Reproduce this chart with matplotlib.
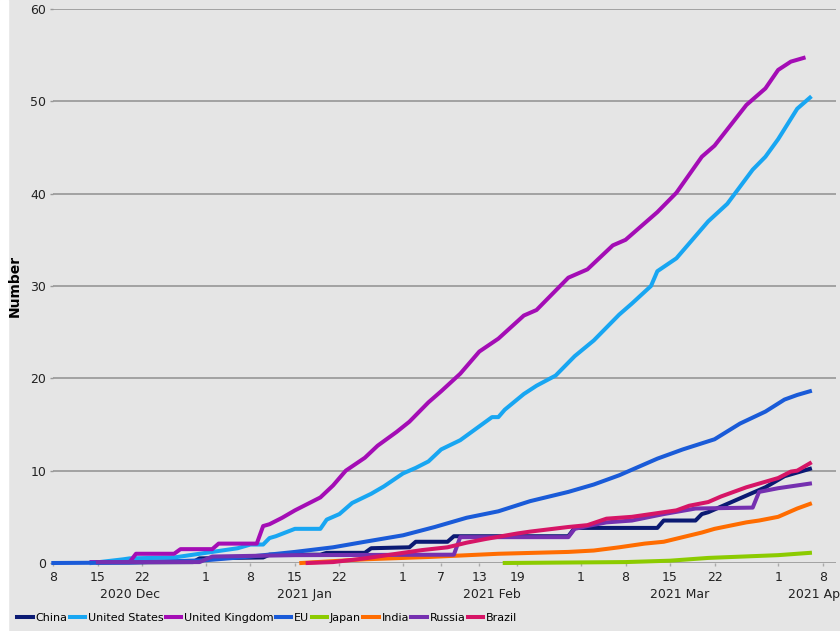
import matplotlib
matplotlib.use("Agg")
import matplotlib.pyplot as plt
import matplotlib.dates as mdates
from matplotlib.patches import Rectangle
import pandas as pd

# values (doses per hundred people, cumulative)
china_dates = ["2020-12-15", "2020-12-30", "2020-12-31", "2021-01-10", "2021-01-11", "2021-01-19",
               "2021-01-20", "2021-01-26", "2021-01-27", "2021-02-02", "2021-02-03", "2021-02-08",
               "2021-02-09", "2021-02-27", "2021-02-28", "2021-03-13", "2021-03-14", "2021-03-19",
               "2021-03-20", "2021-03-21", "2021-03-24", "2021-03-27", "2021-03-30", "2021-04-02",
               "2021-04-06"]
china_vals = [0.05, 0.1, 0.5, 0.6, 0.9, 0.9,
              1.1, 1.1, 1.6, 1.7, 2.3, 2.3,
              2.9, 2.9, 3.8, 3.8, 4.6, 4.6,
              5.3, 5.5, 6.4, 7.3, 8.2, 9.4,
              10.2]

us_dates = ["2020-12-14", "2020-12-19", "2020-12-20", "2020-12-27", "2020-12-30", "2021-01-02",
            "2021-01-06", "2021-01-08", "2021-01-10", "2021-01-11", "2021-01-12", "2021-01-15",
            "2021-01-19", "2021-01-20", "2021-01-22", "2021-01-24", "2021-01-27", "2021-01-29",
            "2021-02-01", "2021-02-03", "2021-02-05", "2021-02-07", "2021-02-10", "2021-02-13",
            "2021-02-15", "2021-02-16", "2021-02-17", "2021-02-20", "2021-02-22", "2021-02-25",
            "2021-02-28", "2021-03-03", "2021-03-07", "2021-03-09", "2021-03-12", "2021-03-13",
            "2021-03-16", "2021-03-21", "2021-03-24", "2021-03-28", "2021-03-30", "2021-04-01",
            "2021-04-04", "2021-04-06"]
us_vals = [0.0, 0.4, 0.5, 0.6, 0.9, 1.2,
           1.6, 2.0, 2.0, 2.7, 2.9, 3.7,
           3.7, 4.7, 5.3, 6.5, 7.5, 8.3,
           9.7, 10.3, 11.0, 12.3, 13.3, 14.8,
           15.8, 15.8, 16.6, 18.3, 19.2, 20.3,
           22.4, 24.1, 26.9, 28.1, 30.0, 31.6,
           33.0, 37.0, 38.9, 42.6, 44.0, 45.9,
           49.2, 50.4]

uk_dates = ["2020-12-14", "2020-12-20", "2020-12-21", "2020-12-27", "2020-12-28", "2021-01-02",
            "2021-01-03", "2021-01-09", "2021-01-10", "2021-01-11", "2021-01-13", "2021-01-15",
            "2021-01-17", "2021-01-19", "2021-01-21", "2021-01-23", "2021-01-26", "2021-01-28",
            "2021-01-31", "2021-02-02", "2021-02-05", "2021-02-07", "2021-02-10", "2021-02-13",
            "2021-02-16", "2021-02-20", "2021-02-22", "2021-02-27", "2021-03-02", "2021-03-06",
            "2021-03-08", "2021-03-13", "2021-03-16", "2021-03-20", "2021-03-22", "2021-03-27",
            "2021-03-30", "2021-04-01", "2021-04-03", "2021-04-05"]
uk_vals = [0.1, 0.1, 1.0, 1.0, 1.5, 1.5,
           2.1, 2.1, 4.0, 4.2, 4.9, 5.7,
           6.4, 7.1, 8.4, 10.0, 11.4, 12.7,
           14.2, 15.3, 17.4, 18.6, 20.5, 22.9,
           24.3, 26.8, 27.4, 30.9, 31.8, 34.4,
           35.0, 38.0, 40.1, 44.0, 45.2, 49.6,
           51.4, 53.4, 54.3, 54.7]

eu_dates = ["2020-12-08", "2020-12-20", "2021-01-01", "2021-01-08", "2021-01-15", "2021-01-21",
            "2021-01-26", "2021-02-01", "2021-02-06", "2021-02-11", "2021-02-16", "2021-02-21",
            "2021-02-27", "2021-03-03", "2021-03-07", "2021-03-09", "2021-03-13", "2021-03-17",
            "2021-03-22", "2021-03-26", "2021-03-30", "2021-04-02", "2021-04-04", "2021-04-06"]
eu_vals = [0.0, 0.05, 0.3, 0.7, 1.2, 1.7,
           2.3, 3.0, 3.9, 4.9, 5.6, 6.7,
           7.7, 8.5, 9.5, 10.1, 11.3, 12.3,
           13.4, 15.1, 16.4, 17.7, 18.2, 18.6]

japan_dates = ["2021-02-17", "2021-03-08", "2021-03-15", "2021-03-21", "2021-04-01", "2021-04-06"]
japan_vals = [0.0, 0.1, 0.25, 0.55, 0.85, 1.1]

india_dates = ["2021-01-16", "2021-01-26", "2021-02-05", "2021-02-16", "2021-02-27", "2021-03-03",
               "2021-03-07", "2021-03-11", "2021-03-14", "2021-03-17", "2021-03-20", "2021-03-22",
               "2021-03-27", "2021-03-29", "2021-04-01", "2021-04-03", "2021-04-04", "2021-04-06"]
india_vals = [0.0, 0.4, 0.65, 1.0, 1.2, 1.35,
              1.7, 2.1, 2.3, 2.8, 3.3, 3.7,
              4.4, 4.6, 5.0, 5.6, 5.9, 6.4]

russia_dates = ["2020-12-15", "2020-12-31", "2021-01-02", "2021-01-15", "2021-02-09", "2021-02-10",
                "2021-02-27", "2021-02-28", "2021-03-02", "2021-03-05", "2021-03-09", "2021-03-14",
                "2021-03-19", "2021-03-28", "2021-03-29", "2021-04-01", "2021-04-06"]
russia_vals = [0.1, 0.1, 0.7, 0.85, 0.9, 2.8,
               2.8, 3.7, 4.0, 4.4, 4.6, 5.3,
               5.9, 6.0, 7.7, 8.1, 8.6]

brazil_dates = ["2021-01-17", "2021-01-21", "2021-01-26", "2021-01-31", "2021-02-04", "2021-02-08",
                "2021-02-11", "2021-02-14", "2021-02-19", "2021-02-21", "2021-02-27", "2021-03-02",
                "2021-03-05", "2021-03-09", "2021-03-13", "2021-03-16", "2021-03-18", "2021-03-21",
                "2021-03-23", "2021-03-27", "2021-03-30", "2021-04-01", "2021-04-03", "2021-04-04",
                "2021-04-06"]
brazil_vals = [0.0, 0.1, 0.5, 1.0, 1.4, 1.7,
               2.2, 2.6, 3.2, 3.4, 3.9, 4.1,
               4.8, 5.0, 5.4, 5.7, 6.2, 6.6,
               7.2, 8.2, 8.8, 9.2, 9.9, 10.0,
               10.8]

series = [
    ("China", china_dates, china_vals, "#0b1a73"),
    ("United States", us_dates, us_vals, "#18a6f2"),
    ("United Kingdom", uk_dates, uk_vals, "#a40db5"),
    ("EU", eu_dates, eu_vals, "#1a5bd8"),
    ("Japan", japan_dates, japan_vals, "#8ccb00"),
    ("India", india_dates, india_vals, "#ff6c00"),
    ("Russia", russia_dates, russia_vals, "#7530b0"),
    ("Brazil", brazil_dates, brazil_vals, "#d61566"),
]

tick_dates = ["2020-12-08", "2020-12-15", "2020-12-22", "2021-01-01", "2021-01-08", "2021-01-15",
              "2021-01-22", "2021-02-01", "2021-02-07", "2021-02-13", "2021-02-19", "2021-03-01",
              "2021-03-08", "2021-03-15", "2021-03-22", "2021-04-01", "2021-04-08"]
tick_labels = ["8", "15", "22", "1", "8", "15", "22", "1", "7", "13", "19", "1", "8", "15", "22", "1", "8"]
month_labels = ["2020 Dec", "2021 Jan", "2021 Feb", "2021 Mar", "2021 Apr"]
month_pos = ["2020-12-20", "2021-01-16 12:00", "2021-02-15", "2021-03-16 12:00", "2021-04-07"]

bg = "#e5e5e5"
fig = plt.figure(figsize=(8.4, 6.31), dpi=100, facecolor=bg)
fig.patches.append(Rectangle((0, 0), 8 / 840, 1, transform=fig.transFigure,
                             color="white", zorder=-5))
ax = fig.add_axes([53 / 840, 68 / 631, 783 / 840, 554 / 631])
ax.set_facecolor(bg)

for name, dts, vals, col in series:
    ax.plot(pd.to_datetime(dts), vals, color=col, lw=2.9, label=name, clip_on=False)

start = mdates.date2num(pd.Timestamp("2020-12-08"))
ax.set_xlim(start - 0.05, start + 123.1)
ax.set_ylim(0, 60)
ax.set_yticks(range(0, 61, 10))
ax.set_xticks(mdates.date2num(pd.to_datetime(tick_dates)))
ax.set_xticklabels(tick_labels)

for s in ax.spines.values():
    s.set_visible(False)
ax.yaxis.grid(True, color="#8f8f8f", lw=1.1)
ax.set_axisbelow(True)
ax.tick_params(axis="both", labelsize=9, colors="#222222")
ax.tick_params(axis="x", length=2.5, width=1, color="#aaaaaa", pad=3)
ax.tick_params(axis="y", length=2.5, width=1, color="#999999", pad=2.5)

# month names under the day ticks; the April one runs off the right edge as in the source
for lab, pos in zip(month_labels, month_pos):
    ax.text(mdates.date2num(pd.Timestamp(pos)), -0.056, lab, transform=ax.get_xaxis_transform(),
            ha="center", va="center", fontsize=9, color="#222222", clip_on=False)

ax.set_ylabel("Number", fontsize=10, fontweight="bold")
ax.yaxis.set_label_coords(-0.0396, 0.5)

fig.legend(loc="center left", bbox_to_anchor=(17 / 840, 13 / 631), ncol=8, frameon=False,
           fontsize=8, handlelength=1.4, handletextpad=0.25, columnspacing=0.2,
           borderpad=0, borderaxespad=0)

fig.savefig("out.png", dpi=100, facecolor=bg)
